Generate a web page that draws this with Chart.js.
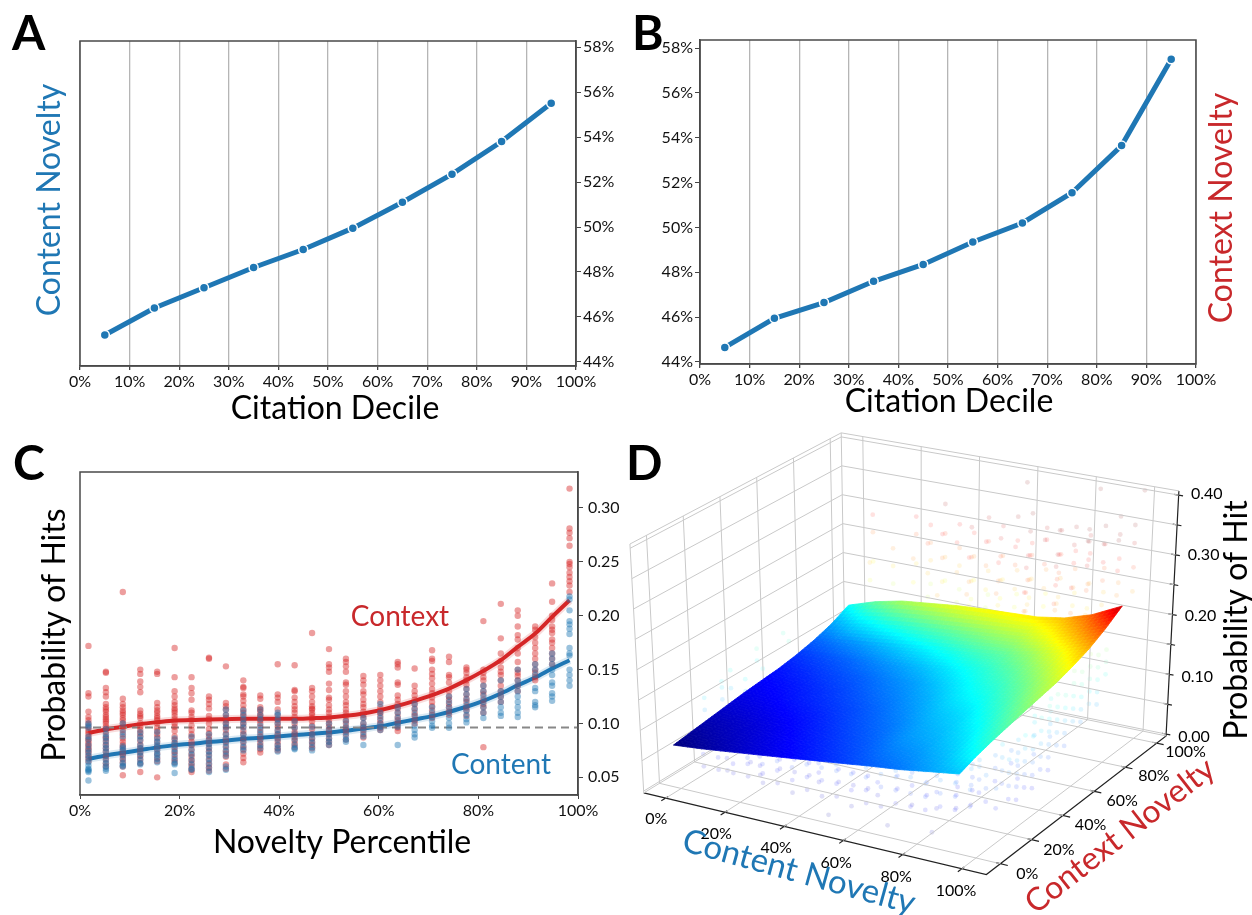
<!DOCTYPE html>
<html>
<head>
<meta charset="utf-8">
<title>Novelty and citations</title>
<script src="https://cdn.jsdelivr.net/npm/chart.js@4"></script>
<style>
  html, body { margin: 0; padding: 0; background: #fff; }
  #page { position: relative; width: 1252px; height: 915px; overflow: hidden; }
  .panel { position: absolute; }
  .letter { position: absolute; font: 700 48px Lato, sans-serif; color: #000; line-height: 1; }
</style>
</head>
<body>
<div id="page">
  <div class="panel" style="left:0;top:0;width:626px;height:430px"><canvas id="panelA"></canvas></div>
  <div class="panel" style="left:626px;top:0;width:626px;height:430px"><canvas id="panelB"></canvas></div>
  <div class="panel" style="left:0;top:430px;width:626px;height:485px"><canvas id="panelC"></canvas></div>
  <div class="panel" style="left:620px;top:420px;width:632px;height:495px"><canvas id="panelD"></canvas></div>
  <div class="letter" style="left:12px;top:8px">A</div>
  <div class="letter" style="left:632px;top:8px">B</div>
  <div class="letter" style="left:13px;top:438px">C</div>
  <div class="letter" style="left:626px;top:438px">D</div>
</div>
<script>
const BLUE = '#1f77b4';
const RED = '#d62728';
const FONT = 'Lato, sans-serif';

// Panels A and B
const decileCenters = [5, 15, 25, 35, 45, 55, 65, 75, 85, 95];
const contentByDecile = [45.2, 46.4, 47.3, 48.2, 49.0, 49.95, 51.1, 52.35, 53.8, 55.5];
const contextByDecile = [44.65, 45.95, 46.65, 47.6, 48.35, 49.35, 50.2, 51.55, 53.65, 57.5];
const decileTicks = [0, 10, 20, 30, 40, 50, 60, 70, 80, 90, 100];
const shareTicks = [44, 46, 48, 50, 52, 54, 56, 58];

// Panel C
const percentileCenters = [1.7, 5.2, 8.6, 12.1, 15.5, 19, 22.4, 25.9, 29.3, 32.8, 36.2, 39.7, 43.1, 46.6, 50,
  53.4, 56.9, 60.3, 63.8, 67.2, 70.7, 74.1, 77.6, 81, 84.5, 87.9, 91.4, 94.8, 98.3];
const contextFit = [.0913, .0944, .0969, .0994, .1012, .1028, .1031, .1037, .104, .1043, .1043, .1043, .1043, .1049, .1056,
  .1071, .1093, .1124, .1164, .121, .1263, .1324, .1402, .1488, .1587, .1711, .1834, .1989, .2143];
const contentFit = [.0672, .0703, .0728, .0753, .0778, .0799, .0811, .0827, .0839, .0858, .0867, .0879, .0892, .0904, .0917,
  .0932, .0954, .0975, .1006, .1037, .1068, .1108, .1155, .121, .1278, .1355, .1426, .151, .1587];
const contextHits = [
  [.172, .128, .125, .111, .106, .103, .1, .097, .094, .092, .09, .087, .085, .083, .081, .079, .077, .075, .073, .07, .068, .065],
  [.148, .147, .133, .129, .125, .118, .115, .113, .111, .108, .106, .104, .102, .1, .097, .095, .092, .088, .086, .083, .08, .077, .074, .07, .067, .063, .06],
  [.222, .123, .118, .115, .112, .11, .108, .105, .103, .1, .097, .094, .09, .086, .083, .08, .078, .075, .072, .07, .067, .064, .06, .052],
  [.15, .146, .139, .134, .129, .112, .109, .107, .105, .1, .097, .094, .091, .088, .084, .08, .077, .073, .07, .067, .063, .055],
  [.148, .146, .119, .115, .112, .11, .107, .105, .103, .1, .096, .093, .09, .087, .083, .079, .076, .072, .068, .065, .05],
  [.17, .143, .13, .125, .12, .117, .114, .112, .11, .107, .104, .1, .097, .093, .088, .085, .082, .078, .074, .071, .067, .064],
  [.143, .133, .128, .122, .112, .11, .106, .103, .098, .094, .09, .087, .083, .08, .076, .072, .069, .066, .063, .06, .057, .055],
  [.161, .16, .125, .122, .118, .114, .107, .104, .1, .095, .091, .088, .085, .081, .077, .074, .07, .066, .062, .059, .056],
  [.153, .119, .116, .113, .108, .105, .103, .1, .097, .094, .09, .086, .083, .079, .075, .072, .069, .062, .058],
  [.14, .134, .133, .127, .125, .121, .117, .113, .11, .107, .103, .1, .097, .093, .09, .086, .083, .079, .076, .072, .068, .064],
  [.126, .123, .115, .113, .111, .108, .106, .103, .1, .096, .092, .088, .085, .082, .079, .076, .073],
  [.155, .127, .124, .12, .113, .108, .103, .1, .097, .093, .09, .086, .083, .08, .077, .075],
  [.154, .131, .13, .124, .12, .116, .113, .11, .106, .103, .1, .096, .092, .09, .087, .084, .081, .078],
  [.184, .133, .13, .125, .12, .116, .114, .113, .11, .108, .105, .102, .098, .095, .09, .086, .083, .08, .077],
  [.169, .155, .152, .148, .137, .131, .124, .122, .117, .113, .11, .106, .103, .1, .097, .094, .09, .086, .083, .08],
  [.16, .157, .153, .148, .138, .136, .13, .125, .12, .117, .113, .11, .107, .103, .1, .096, .093, .09, .085],
  [.144, .14, .136, .13, .127, .122, .118, .115, .111, .108, .105, .1, .097, .094, .09, .087],
  [.145, .14, .135, .13, .125, .12, .115, .112, .11, .107, .103, .1, .096, .094],
  [.157, .155, .152, .138, .136, .126, .122, .118, .114, .11, .106, .103, .1, .096, .093],
  [.151, .135, .13, .126, .122, .118, .114, .11, .107, .103, .1],
  [.168, .16, .158, .15, .146, .142, .137, .132, .128, .124, .12, .116, .112, .108, .105],
  [.162, .157, .145, .143, .138, .13, .125, .122, .118, .115, .111, .108],
  [.152, .15, .147, .143, .14, .136, .132, .127, .123, .12, .115, .112, .107],
  [.195, .15, .147, .143, .14, .135, .13, .127, .122, .118, .115, .11, .078],
  [.211, .179, .165, .158, .152, .148, .145, .14, .135, .13, .125, .12],
  [.205, .2, .19, .182, .178, .17, .165, .157, .15, .147, .144, .14, .135, .13],
  [.19, .187, .18, .175, .17, .165, .16, .155, .15, .147, .143, .14],
  [.23, .213, .2, .196, .19, .187, .184, .178, .175, .17, .165, .16, .155],
  [.318, .281, .277, .272, .265, .25, .248, .245, .24, .236, .232, .228, .222],
];
const contentHits = [
  [.1, .098, .096, .088, .085, .08, .076, .073, .07, .067, .064, .061, .058, .057, .056, .055, .047],
  [.095, .09, .087, .084, .08, .077, .074, .07, .066, .063, .06, .058, .056],
  [.1, .092, .088, .079, .077, .075, .071, .067, .063, .061, .06],
  [.092, .088, .085, .08, .077, .073, .07, .066, .063, .062],
  [.092, .086, .083, .08, .078, .075, .072, .07, .067, .064],
  [.086, .082, .08, .076, .073, .069, .066, .063, .062, .054],
  [.088, .08, .075, .071, .066, .062, .058, .057],
  [.09, .085, .081, .078, .074, .071, .067, .063, .059, .055],
  [.113, .108, .1, .096, .09, .086, .082, .078, .074, .07, .06, .057],
  [.112, .108, .104, .1, .096, .09, .086, .082, .078, .075],
  [.113, .108, .104, .098, .094, .09, .085, .08, .077],
  [.11, .108, .104, .1, .094, .09, .085, .08, .077, .074],
  [.102, .096, .09, .085, .08, .077, .076],
  [.097, .09, .086, .082, .078, .075],
  [.1, .095, .09, .086, .083, .08],
  [.102, .097, .092, .088, .085, .083],
  [.105, .1, .096, .092, .088, .08],
  [.118, .11, .105, .1, .097, .094],
  [.115, .11, .105, .1, .097, .08],
  [.118, .113, .108, .103, .098, .094, .09, .087],
  [.115, .11, .106, .102, .098, .096],
  [.125, .12, .115, .11, .105, .1, .096],
  [.132, .127, .122, .117, .112, .108, .104, .101],
  [.135, .13, .125, .12, .115, .11, .105],
  [.14, .13, .125, .12, .115, .11, .107],
  [.15, .14, .135, .13, .125, .12, .115, .11, .106],
  [.155, .15, .145, .133, .13, .12, .117, .115],
  [.165, .16, .155, .15, .145, .138, .135, .128, .125, .121],
  [.218, .215, .205, .195, .192, .188, .183, .17, .165, .163, .15, .145, .14, .135],
];
const baseRate = 0.0963;
const percentileTicks = [0, 20, 40, 60, 80, 100];
const hitTicks = [0.05, 0.10, 0.15, 0.20, 0.25, 0.30];

// Panel D
const surfaceContent = [-2, 7.5, 17, 26.5, 36, 45.5, 55, 64.5, 74, 83.5, 94];
const surfaceContext = [0, 10, 20, 30, 40, 50, 60, 70, 80, 90, 100];
const surfaceHits = [
  [.066, .070, .075, .080, .085, .090, .095, .100, .104, .110, .116],
  [.070, .074, .078, .083, .088, .093, .098, .104, .108, .114, .125],
  [.074, .077, .081, .086, .091, .096, .101, .108, .112, .119, .132],
  [.078, .081, .085, .089, .094, .099, .104, .111, .116, .124, .138],
  [.082, .085, .089, .093, .097, .102, .108, .115, .120, .130, .144],
  [.085, .088, .092, .096, .101, .106, .112, .120, .126, .136, .150],
  [.088, .092, .096, .100, .105, .110, .117, .125, .132, .142, .156],
  [.093, .097, .101, .106, .111, .117, .124, .131, .139, .150, .165],
  [.100, .105, .110, .116, .122, .128, .134, .139, .148, .160, .176],
  [.110, .120, .127, .133, .138, .143, .148, .152, .162, .175, .192],
  [.125, .140, .150, .155, .160, .163, .165, .167, .174, .188, .212],
];
// content, context, probabilities of the faint observed cells
const cloudStacks = [
  [10, 95, [.22, .27, .30]], [15, 85, [.24, .21]], [25, 95, [.23, .28, .31]], [30, 85, [.22, .26]],
  [35, 95, [.21, .25, .29, .34]], [40, 85, [.23, .27, .31]], [45, 95, [.22, .26, .30]], [50, 85, [.21, .24, .28, .33]],
  [55, 95, [.23, .27, .32]], [60, 85, [.22, .25, .29, .32]], [65, 95, [.24, .28, .30, .35]], [70, 85, [.23, .26, .30, .34]],
  [75, 95, [.25, .29, .33]], [80, 85, [.24, .28, .31, .35]], [85, 95, [.25, .30, .33]], [90, 85, [.23, .27, .31, .34, .36]],
  [95, 95, [.26, .30, .34, .37]], [70, 65, [.2, .23, .27]], [80, 65, [.21, .25, .28, .32]], [90, 65, [.22, .26, .3, .33]],
  [95, 75, [.24, .28, .32, .36]], [60, 65, [.19, .22, .26]], [50, 65, [.18, .21, .25]], [100, 85, [.26, .3, .35]],
  [98, 60, [.24, .27, .31]], [60, 100, [.39]], [85, 100, [.40]], [100, 100, [.41]],
  [20, 90, [.2, .23, .26]], [30, 95, [.2, .24, .27, .3]], [40, 95, [.2, .24, .27, .31]], [50, 95, [.2, .24, .29, .33]],
  [60, 95, [.21, .25, .3, .34]], [70, 95, [.22, .26, .31, .33]], [80, 95, [.23, .27, .3, .34]], [90, 95, [.24, .28, .32, .35]],
  [100, 95, [.25, .29, .33, .36]], [35, 85, [.2, .24, .29]], [45, 85, [.2, .25, .3]], [55, 85, [.2, .23, .27, .31]],
  [65, 85, [.21, .24, .28, .31]], [75, 85, [.22, .25, .29, .33]], [85, 85, [.23, .26, .3, .33]], [95, 85, [.24, .28, .31, .34]],
  [55, 75, [.19, .22, .26, .3]], [65, 75, [.2, .23, .27, .3]], [75, 75, [.21, .24, .28, .32]], [85, 75, [.22, .25, .29, .33]],
  [65, 55, [.18, .21, .25]], [75, 55, [.19, .22, .26]], [85, 55, [.2, .23, .27, .3]], [95, 55, [.21, .25, .29]],
  [75, 45, [.17, .2, .23]], [85, 45, [.18, .21, .25]], [95, 35, [.19, .22]],
  [5, 5, [.03, .05]], [10, 10, [.02, .04, .055]], [15, 5, [.03, .045]], [20, 12, [.02, .035, .05]],
  [25, 5, [.025, .04, .055]], [30, 15, [.03, .05]], [35, 5, [.02, .04, .06]], [40, 12, [.03, .045, .06]],
  [45, 5, [.025, .05, .07]], [50, 15, [.03, .05, .065]], [55, 5, [.02, .045, .07]], [60, 12, [.03, .05, .075]],
  [65, 5, [.03, .06, .08]], [70, 15, [.02, .05, .07]], [75, 5, [.04, .06, .085]], [80, 12, [.03, .055, .08]],
  [85, 5, [.05, .07, .09]], [90, 15, [.04, .07, .095]], [95, 5, [.06, .085]], [100, 12, [.05, .08]],
  [50, 0, [.01]], [70, 0, [.015]], [85, 0, [.02]],
  [5, 15, [.04, .055]], [10, 5, [.03, .05]], [15, 15, [.03, .05]], [20, 5, [.03, .05, .06]], [25, 15, [.03, .045, .06]],
  [30, 5, [.03, .05, .065]], [35, 15, [.03, .05, .065]], [40, 5, [.03, .05, .07]], [45, 15, [.03, .05, .07]],
  [50, 5, [.03, .05, .07, .08]], [55, 15, [.03, .05, .07]], [60, 5, [.03, .05, .07, .085]], [65, 15, [.04, .06, .08]],
  [70, 5, [.04, .06, .08, .09]], [75, 15, [.04, .06, .08]], [80, 5, [.04, .06, .08, .1]], [90, 5, [.05, .07, .09]],
  [95, 25, [.06, .08, .1, .12]], [100, 30, [.05, .07, .09, .11, .13]], [100, 40, [.06, .08, .1, .12, .14]],
  [95, 45, [.07, .1, .12, .13]], [100, 50, [.08, .1, .12, .14, .16]], [100, 60, [.1, .12, .14, .16, .18]],
  [100, 70, [.11, .13, .15, .17, .19]], [100, 20, [.05, .07, .09, .11]], [90, 30, [.05, .07, .09]],
  [90, 40, [.06, .08]], [100, 80, [.14, .16, .18]],
  [90, 20, [.05, .07, .09, .1]], [95, 15, [.05, .07, .09]], [95, 35, [.05, .07, .09, .11]], [95, 55, [.08, .1, .12, .14]],
  [100, 45, [.05, .07, .09, .11, .13, .15]], [100, 55, [.07, .09, .11, .13, .15]], [100, 65, [.09, .11, .13, .15, .17]],
  [100, 75, [.1, .12, .14, .16, .18]], [100, 35, [.04, .06, .08, .1, .12]], [100, 25, [.04, .06, .08, .1]],
  [85, 25, [.04, .06, .08]], [85, 15, [.03, .05, .07]], [80, 25, [.04, .06]],
  [0, 15, [.1, .12]], [0, 30, [.11, .14]], [5, 40, [.13]], [0, 60, [.15]],
  [0, 25, [.1, .12, .13]], [0, 45, [.13, .15]], [5, 30, [.11, .13]], [5, 55, [.15]],
];
const noveltyTicks = [0, 20, 40, 60, 80, 100];
const probTicks = [0, 0.10, 0.20, 0.30, 0.40];
const probGrid = [0, 0.05, 0.10, 0.15, 0.20, 0.25, 0.30, 0.35, 0.40];

// the 3D box as seen on the page, corners in page pixels
const box = {
  x: [-7.4, 108.3], y: [-9, 106], z: [-0.003, 0.407],
  floor: [[640, 795], [987, 878], [844, 670], [1169, 737]],
  top: [[626, 542], [993, 592], [840, 429], [1182, 488]],
};

function project(cx, cy, p) {
  const u = (cx - box.x[0]) / (box.x[1] - box.x[0]);
  const v = (cy - box.y[0]) / (box.y[1] - box.y[0]);
  const w = (p - box.z[0]) / (box.z[1] - box.z[0]);
  const at = (c, i) => (1 - u) * (1 - v) * c[0][i] + u * (1 - v) * c[1][i] + (1 - u) * v * c[2][i] + u * v * c[3][i];
  const fx = at(box.floor, 0), fy = at(box.floor, 1);
  return { x: fx + (at(box.top, 0) - fx) * w, y: fy + (at(box.top, 1) - fy) * w };
}

function jet(t) {
  t = Math.max(0, Math.min(1, t));
  const ch = (c) => Math.round(255 * Math.max(0, Math.min(1, 1.5 - Math.abs(4 * t - c))));
  return [ch(3), ch(2), ch(1)];
}

function toPoints(xs, ys) {
  return xs.map((x, i) => ({ x: x, y: ys[i] }));
}

function hitPoints(columns) {
  const pts = [];
  columns.forEach((col, i) => col.forEach((v) => pts.push({ x: percentileCenters[i], y: v })));
  return pts;
}

// frame round the plot
const framePlugin = {
  id: 'frame',
  afterDatasetsDraw(chart) {
    const a = chart.chartArea, c = chart.ctx;
    c.save();
    c.strokeStyle = '#4a4a4a';
    c.lineWidth = 1.5;
    c.strokeRect(a.left, a.top, a.right - a.left, a.bottom - a.top);
    c.restore();
  },
};

// free text: axis titles and the direct labels
const textPlugin = {
  id: 'panelText',
  afterDraw(chart, args, opts) {
    const c = chart.ctx;
    (opts.items || []).forEach((t) => {
      c.save();
      c.translate(t.x, t.y);
      c.rotate((t.angle || 0) * Math.PI / 180);
      c.font = `${t.size}px ${FONT}`;
      c.fillStyle = t.color || '#000';
      c.textAlign = 'center';
      c.textBaseline = 'middle';
      c.fillText(t.text, 0, 0);
      c.restore();
    });
  },
};

function fixedTicks(values) {
  return (scale) => { scale.ticks = values.map((v) => ({ value: v })); };
}

function fixSize(prop, size) {
  return (scale) => { scale[prop] = size; };
}

function decileChart(id, values, yPos, side, padding, xHeight, yRange, items) {
  return new Chart(document.getElementById(id), {
    type: 'scatter',
    data: {
      datasets: [{
        data: toPoints(decileCenters, values),
        showLine: true,
        borderColor: BLUE,
        borderWidth: 5,
        pointRadius: 4.5,
        pointBackgroundColor: BLUE,
        pointBorderColor: '#fff',
        pointBorderWidth: 1.5,
      }],
    },
    options: {
      responsive: true,
      maintainAspectRatio: false,
      animation: false,
      layout: { padding: padding },
      scales: {
        x: {
          type: 'linear', min: 0, max: 100,
          afterBuildTicks: fixedTicks(decileTicks),
          afterFit: fixSize('height', xHeight),
          grid: { color: '#b5b5b5', lineWidth: 1.3, tickColor: '#444', tickLength: 4 },
          border: { color: '#4a4a4a', width: 1.5 },
          ticks: { color: '#111', font: { family: FONT, size: 16 }, padding: 2, maxRotation: 0, autoSkip: false, callback: (v) => v + '%' },
        },
        y: {
          type: 'linear', position: yPos, min: yRange[0], max: yRange[1],
          afterBuildTicks: fixedTicks(shareTicks),
          afterFit: fixSize('width', side),
          grid: { drawOnChartArea: false, tickColor: '#444', tickLength: 5 },
          border: { color: '#4a4a4a', width: 1.5 },
          ticks: { color: '#111', font: { family: FONT, size: 16 }, padding: 2, callback: (v) => v + '%' },
        },
      },
      plugins: { legend: { display: false }, tooltip: { enabled: false }, panelText: { items: items } },
    },
    plugins: [framePlugin, textPlugin],
  });
}

decileChart('panelA', contentByDecile, 'right', 50, { left: 80, top: 41 }, 64, [43.82, 58.27], [
  { text: 'Content Novelty', x: 50, y: 200, angle: -90, size: 32, color: BLUE },
  { text: 'Citation Decile', x: 335, y: 409, size: 32 },
]);
decileChart('panelB', contextByDecile, 'left', 74, { right: 56, top: 40 }, 66, [43.91, 58.36], [
  { text: 'Context Novelty', x: 596, y: 208, angle: -90, size: 32, color: '#c8282b' },
  { text: 'Citation Decile', x: 323, y: 402, size: 32 },
]);

new Chart(document.getElementById('panelC'), {
  type: 'scatter',
  data: {
    datasets: [
      { data: hitPoints(contentHits), pointRadius: 3.2, pointBorderWidth: 0, pointBackgroundColor: 'rgba(31,119,180,0.45)' },
      { data: hitPoints(contextHits), pointRadius: 3.2, pointBorderWidth: 0, pointBackgroundColor: 'rgba(214,39,40,0.45)' },
      { data: [{ x: 0, y: baseRate }, { x: 100, y: baseRate }], showLine: true, borderColor: '#888', borderWidth: 2, borderDash: [8, 5], pointRadius: 0 },
      { data: toPoints(percentileCenters, contextFit), showLine: true, borderColor: 'rgba(214,39,40,0.16)', borderWidth: 8, pointRadius: 0, cubicInterpolationMode: 'monotone' },
      { data: toPoints(percentileCenters, contentFit), showLine: true, borderColor: 'rgba(31,119,180,0.16)', borderWidth: 8, pointRadius: 0, cubicInterpolationMode: 'monotone' },
      { data: toPoints(percentileCenters, contextFit), showLine: true, borderColor: RED, borderWidth: 4, pointRadius: 0, cubicInterpolationMode: 'monotone' },
      { data: toPoints(percentileCenters, contentFit), showLine: true, borderColor: BLUE, borderWidth: 4, pointRadius: 0, cubicInterpolationMode: 'monotone' },
    ],
  },
  options: {
    responsive: true,
    maintainAspectRatio: false,
    animation: false,
    layout: { padding: { left: 80, top: 42 } },
    scales: {
      x: {
        type: 'linear', min: 0, max: 100,
        afterBuildTicks: fixedTicks(percentileTicks),
        afterFit: fixSize('height', 120),
        grid: { drawOnChartArea: false, tickColor: '#444', tickLength: 4 },
        border: { color: '#4a4a4a', width: 1.5 },
        ticks: { color: '#111', font: { family: FONT, size: 16 }, padding: 2, maxRotation: 0, callback: (v) => v + '%' },
      },
      y: {
        type: 'linear', position: 'right', min: 0.0336, max: 0.3334,
        afterBuildTicks: fixedTicks(hitTicks),
        afterFit: fixSize('width', 48),
        grid: { drawOnChartArea: false, tickColor: '#444', tickLength: 5 },
        border: { color: '#4a4a4a', width: 1.5 },
        ticks: { color: '#111', font: { family: FONT, size: 16 }, padding: 5, callback: (v) => v.toFixed(2) },
      },
    },
    plugins: {
      legend: { display: false },
      tooltip: { enabled: false },
      panelText: {
        items: [
          { text: 'Probability of Hits', x: 55, y: 205, angle: -90, size: 32 },
          { text: 'Novelty Percentile', x: 342, y: 413, size: 32 },
          { text: 'Context', x: 400, y: 187, size: 28, color: '#c8282b' },
          { text: 'Content', x: 501, y: 335, size: 28, color: BLUE },
        ],
      },
    },
  },
  plugins: [framePlugin, textPlugin],
});

// Panel D: everything goes through project() onto a page-pixel scatter
function polylines(list) {
  const pts = [];
  list.forEach((line) => {
    line.forEach((p) => pts.push(project(p[0], p[1], p[2])));
    pts.push({ x: NaN, y: NaN });
  });
  return pts;
}

const [x0, x1] = box.x, [y0, y1] = box.y, [z0, z1] = box.z;
const gridLines = [];
noveltyTicks.forEach((t) => {
  gridLines.push([[t, y0, z0], [t, y1, z0], [t, y1, z1]]);
  gridLines.push([[x1, t, z0], [x0, t, z0], [x0, t, z1]]);
});
probGrid.forEach((t) => gridLines.push([[x0, y0, t], [x0, y1, t], [x1, y1, t]]));
gridLines.push([[x0, y0, z1], [x0, y1, z1], [x1, y1, z1]]);
gridLines.push([[x0, y0, z0], [x0, y0, z1]], [[x0, y1, z0], [x0, y1, z1]], [[x0, y1, z0], [x1, y1, z0]], [[x0, y0, z0], [x0, y1, z0]]);

const axisLines = [[[x0, y0, z0], [x1, y0, z0], [x1, y1, z0], [x1, y1, z1]]];
noveltyTicks.forEach((t) => {
  axisLines.push([[t, y0 + 1.5, z0], [t, y0 - 2.5, z0]]);
  axisLines.push([[x1 - 1.5, t, z0], [x1 + 2.5, t, z0]]);
});
probGrid.forEach((t) => axisLines.push([[x1 - 1.5, y1, t], [x1 + 1.5, y1, t]]));

const cloudPoints = [], cloudColors = [];
cloudStacks.forEach((s) => s[2].forEach((p) => {
  cloudPoints.push(project(s[0], s[1], p));
  const c = jet(p / 0.35);
  cloudColors.push(`rgba(${c[0]},${c[1]},${c[2]},0.12)`);
}));

// surface: nodes come from surfaceHits, each cell is shaded in small steps
const zMin = 0.066, zMax = 0.222, shadeSteps = 6;
const surfacePlugin = {
  id: 'surface',
  afterDatasetsDraw(chart) {
    const c = chart.ctx, sx = chart.scales.x, sy = chart.scales.y;
    const node = (i, j) => {
      const p = project(surfaceContent[i], surfaceContext[j], surfaceHits[j][i]);
      return { x: sx.getPixelForValue(p.x), y: sy.getPixelForValue(p.y), z: surfaceHits[j][i] };
    };
    const mix = (a, b, d, e, s, t) => ['x', 'y', 'z'].reduce((o, k) => {
      o[k] = (1 - s) * (1 - t) * a[k] + s * (1 - t) * b[k] + s * t * d[k] + (1 - s) * t * e[k];
      return o;
    }, {});
    c.save();
    c.lineWidth = 0.8;
    for (let j = surfaceContext.length - 2; j >= 0; j--) {
      for (let i = 0; i < surfaceContent.length - 1; i++) {
        const a = node(i, j), b = node(i + 1, j), d = node(i + 1, j + 1), e = node(i, j + 1);
        for (let m = shadeSteps - 1; m >= 0; m--) {
          for (let n = 0; n < shadeSteps; n++) {
            const s0 = n / shadeSteps, s1 = (n + 1) / shadeSteps, t0 = m / shadeSteps, t1 = (m + 1) / shadeSteps;
            const quad = [mix(a, b, d, e, s0, t0), mix(a, b, d, e, s1, t0), mix(a, b, d, e, s1, t1), mix(a, b, d, e, s0, t1)];
            const mid = (quad[0].z + quad[1].z + quad[2].z + quad[3].z) / 4;
            const col = jet((mid - zMin) / (zMax - zMin));
            c.fillStyle = c.strokeStyle = `rgb(${col[0]},${col[1]},${col[2]})`;
            c.beginPath();
            quad.forEach((q, k) => (k ? c.lineTo(q.x, q.y) : c.moveTo(q.x, q.y)));
            c.closePath();
            c.fill();
            c.stroke();
          }
        }
      }
    }
    c.restore();
  },
};

const dOrigin = { x: 620, y: 420 };
const dItems = [];
noveltyTicks.forEach((t) => {
  const p = project(t, y0, z0);
  dItems.push({ text: t + '%', x: p.x - dOrigin.x - 6, y: p.y - dOrigin.y + 19, size: 16 });
  const q = project(x1, t, z0);
  dItems.push({ text: t + '%', x: q.x - dOrigin.x + 26, y: q.y - dOrigin.y + 7, size: 16 });
});
probTicks.forEach((t) => {
  const p = project(x1, y1, t);
  dItems.push({ text: t.toFixed(2), x: p.x - dOrigin.x + 25, y: p.y - dOrigin.y + 2, size: 16 });
});
dItems.push({ text: 'Content Novelty', x: 179, y: 452, angle: 15.5, size: 33, color: BLUE });
dItems.push({ text: 'Context Novelty', x: 500, y: 416, angle: -38, size: 32, color: '#c8282b' });
dItems.push({ text: 'Probability of Hit', x: 617, y: 200, angle: -90, size: 32 });

new Chart(document.getElementById('panelD'), {
  type: 'scatter',
  data: {
    datasets: [
      { data: polylines(gridLines), showLine: true, spanGaps: false, borderColor: '#c9c9c9', borderWidth: 1, pointRadius: 0 },
      { data: cloudPoints, pointRadius: 2.4, pointBorderWidth: 0, pointBackgroundColor: cloudColors },
      { data: polylines(axisLines), showLine: true, spanGaps: false, borderColor: '#222', borderWidth: 1.2, pointRadius: 0 },
    ],
  },
  options: {
    responsive: true,
    maintainAspectRatio: false,
    animation: false,
    layout: { padding: 0 },
    scales: {
      x: { type: 'linear', display: false, min: 620, max: 1252 },
      y: { type: 'linear', display: false, min: 420, max: 915, reverse: true },
    },
    plugins: { legend: { display: false }, tooltip: { enabled: false }, panelText: { items: dItems } },
  },
  plugins: [surfacePlugin, textPlugin],
});
</script>
</body>
</html>
